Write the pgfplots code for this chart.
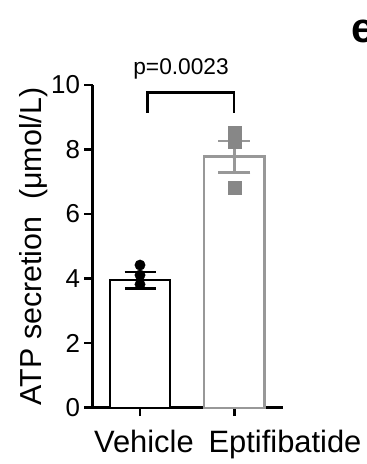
\documentclass[border=0pt]{standalone}
\usepackage{pgfplots}
\pgfplotsset{compat=1.18}
\usepackage{fontspec}
\setmainfont{Liberation Sans}
\definecolor{bargray}{RGB}{152,152,152}
\definecolor{ptgray}{RGB}{135,135,135}
\begin{document}
\begin{tikzpicture}[x=1bp,y=1bp]
\useasboundingbox (-92.7,-56.3) rectangle (273.3,407.7);
\begin{axis}[
  at={(0,0)}, anchor=south west,
  scale only axis, width=190.3bp, height=322.7bp,
  xmin=-0.5016, xmax=1.516, ymin=0, ymax=10,
  axis x line*=bottom, axis y line*=left,
  axis line style={line width=2.5bp, black},
  xtick={0,1}, xticklabels={\hspace*{7.8bp}Vehicle,\hspace*{101.4bp}Eptifibatide},
  ytick={0,2,4,6,8,10},
  tick align=outside, major tick length=8.5bp,
  tick style={line width=2.5bp, black},
  /pgf/number format/assume math mode=true,
  yticklabel style={font=\fontsize{26}{29}\selectfont, inner sep=0pt, anchor=east, xshift=-4bp},
  xticklabel style={font=\fontsize{31}{34}\selectfont, inner sep=0pt, anchor=base, yshift=-36.3bp},
  clip=false,
]
% bars
\addplot[ybar, bar width=60.5bp, bar shift=0pt, draw=black, fill=white, line width=2.3bp] coordinates {(0,3.95)};
\addplot[ybar, bar width=60.5bp, bar shift=0pt, draw=bargray, fill=white, line width=2.3bp] coordinates {(1,7.78)};
% individual points
\addplot[only marks, mark=*, mark size=5.2bp, black] coordinates {(0,4.42) (0,4.11) (0,3.82)};
\addplot[only marks, mark=square*, mark size=6.5bp, ptgray, mark options={draw=ptgray,fill=ptgray}] coordinates {(1,8.51) (1,8.23) (1,6.82)};
% error bars
\addplot[only marks, mark=none, black, error bars/.cd, y dir=both, y explicit,
  error bar style={line width=2.5bp, black},
  error mark options={rotate=90, mark size=15.5bp, line width=2.5bp, black}]
  coordinates {(0,3.95) +- (0,0.25)};
\addplot[only marks, mark=none, bargray, error bars/.cd, y dir=both, y explicit,
  error bar style={line width=2.5bp, bargray},
  error mark options={rotate=90, mark size=16bp, line width=2.5bp, bargray}]
  coordinates {(1,7.78) +- (0,0.49)};
% significance bracket
\draw[line width=2.3bp, black] (axis cs:0.08,9.14) -- (axis cs:0.08,9.77) -- (axis cs:1.0,9.77) -- (axis cs:1.0,9.14);
\node[anchor=base, inner sep=0pt, font=\fontsize{22.8}{26}\selectfont] at (axis cs:0.435,10.31) {p=0.0023};
\end{axis}
\node[rotate=90, anchor=base, inner sep=0pt, font=\fontsize{30.5}{34}\selectfont] at (-51,161.2) {ATP secretion\ \ (μmol/L)};
\node[anchor=base west, inner sep=0pt, font=\fontsize{42}{46}\selectfont\bfseries] at (259,365.4) {e};
\end{tikzpicture}
\end{document}
